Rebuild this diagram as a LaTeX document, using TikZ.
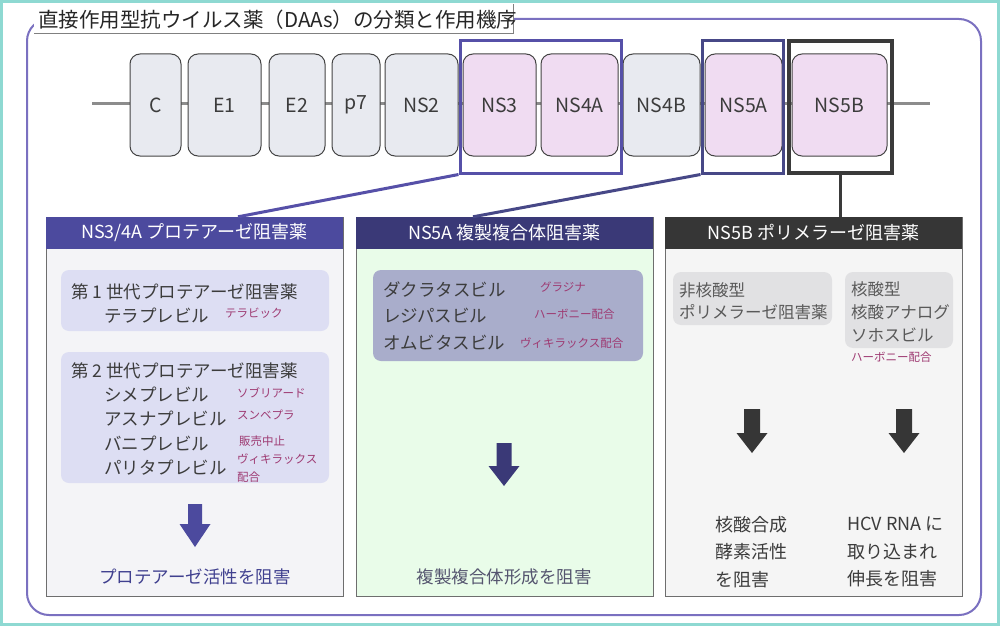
\documentclass[tikz,border=0pt]{standalone}
\usepackage{fontspec}
\setmainfont{Noto Sans CJK JP}
\usetikzlibrary{positioning}
\definecolor{edge}{HTML}{8ED9D2}
\definecolor{frame}{HTML}{7A70C0}
\definecolor{rail}{HTML}{8C8C8C}
\definecolor{cell}{HTML}{E8EAF0}
\definecolor{hit}{HTML}{F0DCF2}
\definecolor{cellline}{HTML}{444444}
\definecolor{ringa}{HTML}{5650A8}
\definecolor{ringb}{HTML}{474887}
\definecolor{ringc}{HTML}{3A3A3A}
\definecolor{heada}{HTML}{4C4A9E}
\definecolor{headb}{HTML}{3A3977}
\definecolor{headc}{HTML}{363636}
\definecolor{bodya}{HTML}{F4F4F7}
\definecolor{bodyb}{HTML}{E9FCE9}
\definecolor{bodyc}{HTML}{F5F5F5}
\definecolor{tilea}{HTML}{DDDEF3}
\definecolor{tileb}{HTML}{A9ADCB}
\definecolor{tilec}{HTML}{E1E1E3}
\definecolor{brand}{HTML}{9E3A72}
\definecolor{ink}{HTML}{3C3C3C}
\definecolor{inka}{HTML}{40408F}
\definecolor{inkb}{HTML}{55556F}
\definecolor{panelline}{HTML}{6E6E6E}

\begin{document}
\begin{tikzpicture}[x=1pt, y=-1pt, font=\fontsize{17.5}{21}\selectfont,
  seg/.style={draw=cellline, line width=1pt, rounded corners=10pt, minimum height=102pt,
              inner sep=0pt, text=ink, font=\fontsize{19.5}{22}\selectfont},
  ring/.style={line width=3pt, inner sep=0pt, minimum height=132pt},
  panel/.style={draw=panelline, line width=0.8pt, minimum width=297pt, minimum height=379pt, inner sep=0pt},
  header/.style={minimum width=297pt, minimum height=32pt, inner sep=0pt, text=white,
                 font=\fontsize{18}{20}\selectfont},
  tile/.style={rounded corners=8pt, inner sep=0pt},
  drug/.style={anchor=west, inner sep=0pt, text=ink},
  trade/.style={anchor=west, inner sep=0pt, text=brand, font=\fontsize{11.5}{13}\selectfont}]
  \useasboundingbox (0,0) rectangle (1000,626);
  \fill[white] (0,0) rectangle (1000,626);
  \draw[edge, line width=3pt] (1.5,1.5) rectangle (998.5,624.5);
  \draw[frame, line width=2pt, rounded corners=22pt] (27,19) rectangle (981,615);

  % title
  \fill[white] (34,3) rectangle (513,33);
  \draw[gray, line width=0.8pt] (34,33) -- (513,33) -- (513,4);
  \node[anchor=west, inner sep=0pt, font=\fontsize{20.5}{24}\selectfont, text=black!85] (title) at (38,20)
    {直接作用型抗ウイルス薬（DAAs）の分類と作用機序};

  % genome
  \coordinate (r0) at (92,103);
  \coordinate (r1) at (930,103);
  \draw[rail, line width=3pt] (r0) -- (r1);
  \foreach \n/\a/\b/\f in {C/130/181/cell, E1/188/261/cell, E2/269/325/cell, p7/332/380/cell,
                          NS2/385/458/cell, NS3/463/536/hit, NS4A/541/618/hit, NS4B/623/700/cell,
                          NS5A/705/782/hit, NS5B/792/887/hit} {
    \node[seg, fill=\f, minimum width={\b-\a}] (\n) at ({(\a+\b)/2},105) {\n};
  }
  \node[ring, draw=ringa, minimum width=161pt] (f34) at (540.5,107) {};
  \node[ring, draw=ringb, minimum width=81pt] (f5a) at (742.5,107) {};
  \node[ring, draw=ringc, line width=4pt, minimum width=103pt] (f5b) at (840.5,107) {};

  % panels
  \foreach \i/\x/\hc/\bc/\t in {1/194.5/heada/bodya/{NS3/4A プロテアーゼ阻害薬},
                               2/504.5/headb/bodyb/{NS5A 複製複合体阻害薬},
                               3/813.5/headc/bodyc/{NS5B ポリメラーゼ阻害薬}} {
    \node[panel, fill=\bc] (b\i) at (\x,406.5) {};
    \node[header, fill=\hc] (h\i) at (\x,233) {\t};
  }
  \draw[ringa, line width=3pt] (f34.south west) -- ([xshift=43.5pt]h1.north);
  \draw[ringb, line width=3pt] (f5a.south west) -- ([xshift=-31.5pt]h2.north);
  \draw[ringc, line width=3pt] (f5b.south) -- (f5b.south |- h3.north);

  % NS3/4A
  \node[tile, fill=tilea, minimum width=268pt, minimum height=61pt] (t1) at (195,300.5) {};
  \node[tile, fill=tilea, minimum width=268pt, minimum height=131pt] (t2) at (195,417.5) {};
  \node[drug] (g1) at (71,292) {第 1 世代プロテアーゼ阻害薬};
  \node[drug] (d316) at (104,316) {テラプレビル};
  \node[trade] (k316) at (225,313) {テラビック};
  \node[drug] (g2) at (71,371) {第 2 世代プロテアーゼ阻害薬};
  \foreach \y/\d in {395/シメプレビル, 419/アスナプレビル, 444/バニプレビル, 468/パリタプレビル}
    \node[drug] (d\y) at (104,\y) {\d};
  \foreach \y/\x/\k in {393/237/ソブリアード, 415/237/スンベプラ, 441/239/販売中止, 459/237/ヴィキラックス, 477/237/配合}
    \node[trade] (k\y) at (\x,\y) {\k};
  \node[text=inka] (m1) at (195,577) {プロテアーゼ活性を阻害};

  % NS5A
  \node[tile, fill=tileb, minimum width=270pt, minimum height=91pt] (t3) at (508,315.5) {};
  \foreach \y/\d in {290/ダクラタスビル, 316/レジパスビル, 343/オムビタスビル}
    \node[drug] (e\y) at (383,\y) {\d};
  \foreach \y/\x/\k in {287/540/グラジナ, 314/534/ハーボニー配合, 343/520/ヴィキラックス配合}
    \node[trade] (l\y) at (\x,\y) {\k};
  \node[text=inkb] (m2) at (504,577) {複製複合体形成を阻害};

  % NS5B
  \node[tile, fill=tilec, minimum width=159pt, minimum height=53pt] (t4) at (752.5,298.5) {};
  \node[tile, fill=tilec, minimum width=108pt, minimum height=76pt] (t5) at (899,310) {};
  \node[drug, align=left, text=ink!85, font=\fontsize{16.5}{22.5}\selectfont] (n1) at (679,301)
    {非核酸型\\ポリメラーゼ阻害薬};
  \node[drug, align=left, text=ink!85, font=\fontsize{16.5}{23}\selectfont] (n2) at (851,312)
    {核酸型\\核酸アナログ\\ソホスビル};
  \node[trade] (l357) at (851,357) {ハーボニー配合};
  \node[drug, align=left, font=\fontsize{18}{27.5}\selectfont] (m3) at (715,552) {核酸合成\\酵素活性\\を阻害};
  \node[drug, align=left, font=\fontsize{18}{27.5}\selectfont] (m4) at (847,552) {HCV RNA に\\取り込まれ\\伸長を阻害};

  % block arrows
  \foreach \x/\t/\m/\b/\s/\c in {195/504/524/547/7/heada, 504/443/466/486/7.5/headb,
                                  752/409/433/453/8/headc, 904/409/433/453/8/headc}
    \fill[\c] (\x-\s,\t) -- (\x+\s,\t) -- (\x+\s,\m) -- (\x+15.5,\m) -- (\x,\b)
              -- (\x-15.5,\m) -- (\x-\s,\m) -- cycle;
\end{tikzpicture}
\end{document}
